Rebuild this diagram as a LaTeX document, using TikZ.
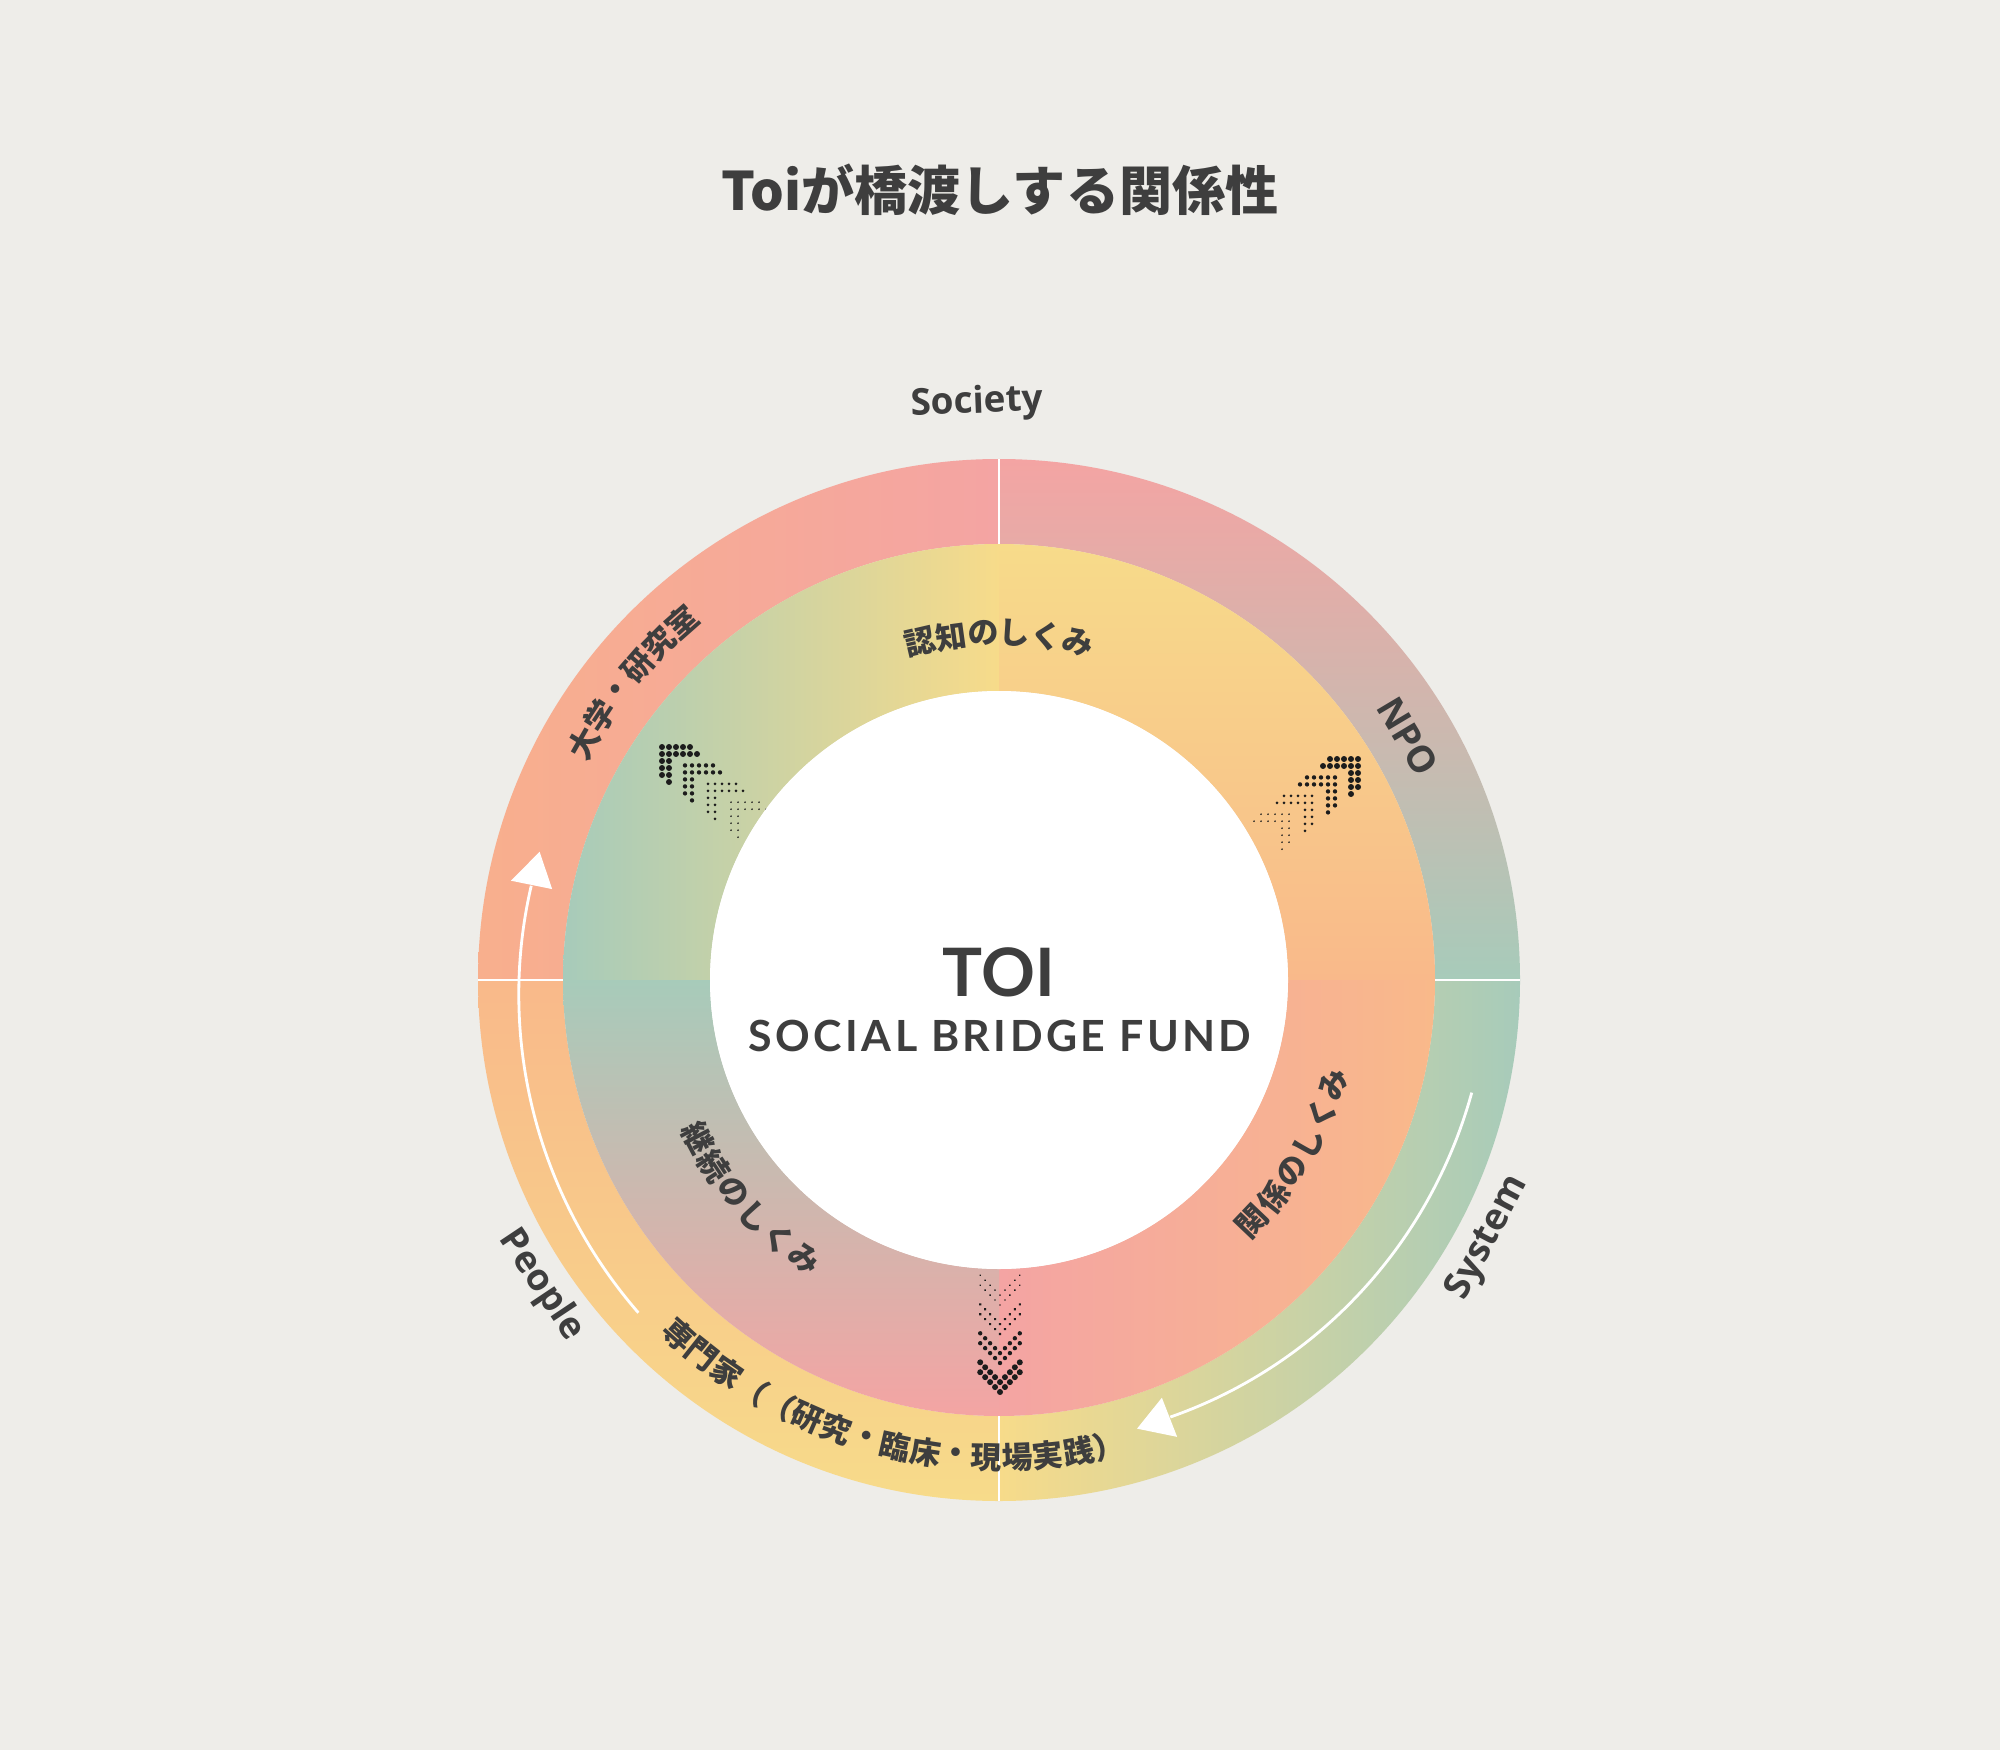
\documentclass[tikz,border=0pt]{standalone}
\usepackage{fontspec}
\newfontfamily\jpf{Noto Sans CJK JP}
\newfontfamily\latf{Lato}
\newfontfamily\lblf{Open Sans}
\newfontfamily\latsf{Lato}[LetterSpace=8]
\definecolor{bg}{HTML}{EEEDE9}
\definecolor{txt}{HTML}{3E3E3E}
\definecolor{dotc}{HTML}{1C1C1C}
\definecolor{cTeal}{HTML}{A7CBBA}
\definecolor{cYel}{HTML}{F7DB8A}
\definecolor{cOr}{HTML}{F9B98A}
\definecolor{cPk}{HTML}{F4A4A3}
\definecolor{cSal}{HTML}{F8AF8D}
\newcommand\chevron[4]{%
  \begin{scope}[shift={(#1,#2)}, rotate=#3]
  \foreach \p in {(0,0),(-7,0),(-14,0),(-21,0),(-28,0),(0,-7),(-7,-7),(-14,-7),(-21,-7),(-28,-7),(-35,-7),(0,-14),(0,-21),(0,-28),(-7,-14),(-7,-21),(-7,-28),(-7,-35)}
    \fill[dotc] \p circle[radius=#4];
  \end{scope}}
\newcommand\arctext[6]{%
  \foreach \ch [count=\k from 0] in {#6}{%
    \pgfmathsetmacro\aa{#3+\k*(#4)}%
    \node[jtxt, rotate=\aa#5] (#1\k) at (\aa:#2) {\ch};}}
\begin{document}
\begin{tikzpicture}[x=0.01cm,y=0.01cm,
  jtxt/.style={text=txt, font=\jpf\bfseries\fontsize{8.8}{10}\selectfont, inner sep=0},
  ltxt/.style={text=txt, font=\lblf\bfseries\fontsize{10.5}{12}\selectfont, inner sep=0},
  sepline/.style={white, line width=0.7pt},
  flow/.style={white, line width=0.8pt},
  head/.style={white}]
\useasboundingbox (0,0) rectangle (2000,1750);
\fill[bg] (0,0) rectangle (2000,1750);
\node[font=\jpf\bfseries\fontsize{15.1}{17}\selectfont, text=txt, inner sep=0] (title) at (1000,1560) {Toiが橋渡しする関係性};
\begin{scope}[shift={(999,770)}]
\def\ro{521}\def\rm{436}\def\ri{289}
% outer ring
\shade[left color=cSal, right color=cPk] (90:\ro) arc[start angle=90,end angle=180,radius=\ro] -- (180:\rm) arc[start angle=180,end angle=90,radius=\rm] -- cycle;
\shade[top color=cPk, bottom color=cTeal] (0:\ro) arc[start angle=0,end angle=90,radius=\ro] -- (90:\rm) arc[start angle=90,end angle=0,radius=\rm] -- cycle;
\shade[left color=cYel, right color=cTeal] (270:\ro) arc[start angle=270,end angle=360,radius=\ro] -- (0:\rm) arc[start angle=360,end angle=270,radius=\rm] -- cycle;
\shade[top color=cOr, bottom color=cYel] (180:\ro) arc[start angle=180,end angle=270,radius=\ro] -- (270:\rm) arc[start angle=270,end angle=180,radius=\rm] -- cycle;
% middle ring
\shade[left color=cTeal, right color=cYel] (90:\rm) arc[start angle=90,end angle=180,radius=\rm] -- (180:\ri) arc[start angle=180,end angle=90,radius=\ri] -- cycle;
\shade[top color=cYel, bottom color=cOr] (0:\rm) arc[start angle=0,end angle=90,radius=\rm] -- (90:\ri) arc[start angle=90,end angle=0,radius=\ri] -- cycle;
\shade[left color=cPk, right color=cOr] (270:\rm) arc[start angle=270,end angle=360,radius=\rm] -- (0:\ri) arc[start angle=360,end angle=270,radius=\ri] -- cycle;
\shade[top color=cTeal, bottom color=cPk] (180:\rm) arc[start angle=180,end angle=270,radius=\rm] -- (270:\ri) arc[start angle=270,end angle=180,radius=\ri] -- cycle;
% separators
\foreach \a in {0,90,180,270} \draw[sepline] (\a:\rm) -- (\a:\ro);
% chevrons
\chevron{-337}{233}{90}{3.0}
\chevron{-314}{214.6}{90}{2.2}
\chevron{-291}{196.2}{90}{1.5}
\chevron{-268}{177.8}{90}{0.95}
\chevron{359}{221}{0}{3.0}
\chevron{336}{202.6}{0}{2.2}
\chevron{313}{184.2}{0}{1.5}
\chevron{290}{165.8}{0}{0.95}
\chevron{1}{-412}{225}{3.0}
\chevron{1}{-383}{225}{2.2}
\chevron{1}{-354}{225}{1.5}
\chevron{1}{-325}{225}{0.95}
% center
\fill[white] (0,0) circle[radius=\ri];
\node[text=txt, font=\latf\bfseries\fontsize{19}{20}\selectfont, inner sep=0] (toi) at (0,8) {TOI};
\node[text=txt, font=\latsf\bfseries\fontsize{12.2}{14}\selectfont, inner sep=0] (sbf) at (1,-56) {SOCIAL BRIDGE FUND};
% flow arrows
\draw[flow] plot[domain=222.7:168.6, samples=60, smooth] (\x:{490.7-(222.7-\x)*0.25});
\fill[head] (164.4:477) -- (168.5:498) -- (168.5:456) -- cycle;
\draw[flow] plot[domain=346.6:291.4, samples=60, smooth] (\x:{486-(346.6-\x)*0.3});
\fill[head] (287.1:469.4) -- (291.3:490.4) -- (291.3:448.4) -- cycle;
% ring texts
\arctext{ninchi}{347}{103.1}{-5.24}{-90}{認,知,の,し,く,み}
\arctext{daigaku}{478}{150.3}{-3.76}{-90}{大,学,・,研,究,室}
\arctext{senmon}{478}{227.9}{3.69}{+90}{専,門,家,（,（,研,究,・,臨,床,・,現,場,実,践,）}
\arctext{keizoku}{340}{207.6}{5.48}{+90}{継,続,の,し,く,み}
\arctext{kankei}{350}{316.4}{5.26}{+90}{関,係,の,し,く,み}
\node[ltxt, rotate=-59.2] (npo) at (30.8:476) {NPO};
\node[ltxt, rotate=2.2] (society) at (92.2:577) {Society};
\node[ltxt, rotate=-56.3] (people) at (213.7:550) {People};
\node[ltxt, rotate=62.2] (system) at (332.2:553) {System};
\end{scope}
\end{tikzpicture}
\end{document}
